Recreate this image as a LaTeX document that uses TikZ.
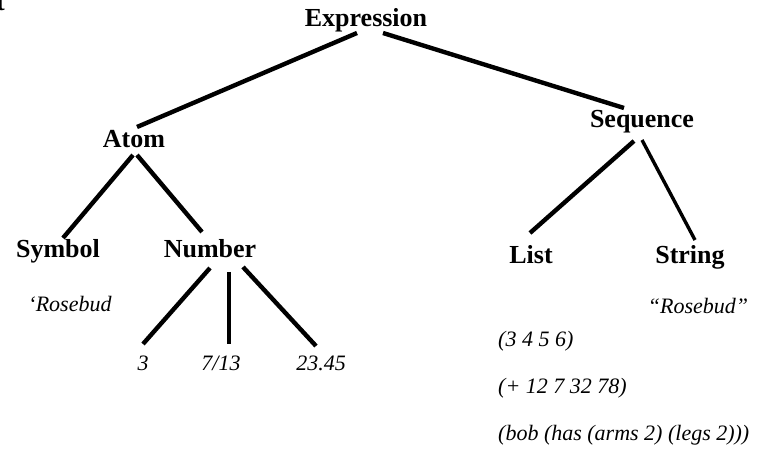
\documentclass[tikz,border=0pt]{standalone}
\usepackage{fontspec}
\setmainfont{Liberation Serif}
\usetikzlibrary{calc}
\begin{document}
\begin{tikzpicture}[x=1pt,y=-1pt,
  cat/.style={font=\fontsize{26}{30}\selectfont\bfseries, inner sep=0pt, anchor=base},
  ex/.style={font=\fontsize{22}{26}\selectfont\itshape, inner sep=0pt, anchor=base},
  exl/.style={ex, anchor=base west},
  branch/.style={line width=4.4pt}]
\useasboundingbox (0,0) rectangle (761,462);

% tail of a heading cut off at the left edge
\begin{scope}
  \clip (0,0) rectangle (12,20);
  \node[cat, anchor=base east] (cut) at (5,11) {t};
\end{scope}

% category nodes
\node[cat] (expr) at (366,27)  {Expression};
\node[cat] (atom) at (134,148) {Atom};
\node[cat] (seq)  at (642,128) {Sequence};
\node[cat] (sym)  at (58,258)  {Symbol};
\node[cat] (num)  at (210,258) {Number};
\node[cat] (list) at (531,264) {List};
\node[cat] (str)  at (690,264) {String};

% examples
\node[ex] (symex) at (70,312)  {`Rosebud};
\node[ex] (strex) at (698,314) {``Rosebud''};
\node[ex] (n1) at (143,371) {3};
\node[ex] (n2) at (221,371) {7/13};
\node[ex] (n3) at (321,371) {23.45};
\node[exl] (l1) at (498,347) {(3 4 5 6)};
\node[exl] (l2) at (498,394) {(+ 12 7 32 78)};
\node[exl] (l3) at (498,440) {(bob (has (arms 2) (legs 2)))};

% branches
\draw[branch] ($(expr.base)+(-9,6)$)  -- ($(atom.base)+(3,-21)$);
\draw[branch] ($(expr.base)+(17,6)$)  -- ($(seq.base)+(-18,-20)$);
\draw[branch] ($(atom.base)+(-1,7)$)  -- ($(sym.base)+(5,-20)$);
\draw[branch] ($(atom.base)+(3,7)$)   -- ($(num.base)+(-8,-26)$);
\draw[branch] ($(num.base)+(0,10)$)   -- ($(n1.base)+(0,-27)$);
\draw[branch] ($(num.base)+(19,14)$)  -- ($(n2.base)+(8,-27)$);
\draw[branch] ($(num.base)+(33,9)$)   -- ($(n3.base)+(-5,-25)$);
\draw[branch] ($(seq.base)+(-8,13)$)  -- ($(list.base)+(-1,-31)$);
\draw[line width=3.4pt] ($(seq.base)+(0,12)$) -- ($(str.base)+(5,-24)$);
\end{tikzpicture}
\end{document}
